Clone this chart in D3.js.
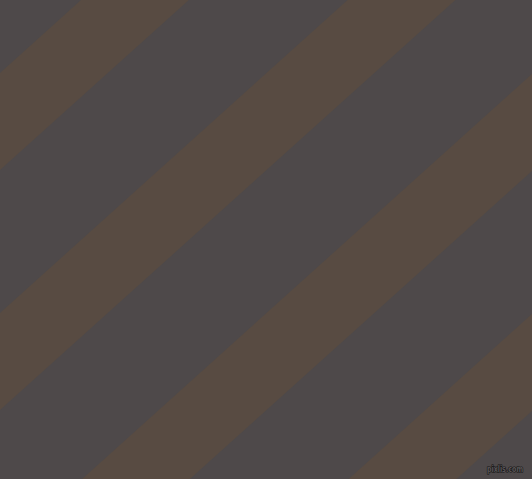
<!DOCTYPE html>
<html>
<head>
<meta charset="utf-8">
<script src="https://cdn.jsdelivr.net/npm/d3@7"></script>
<style>
  html, body { margin: 0; padding: 0; background: #4e494a; }
  svg { display: block; }
</style>
</head>
<body>
<div id="chart"></div>
<script>
'use strict'

// stripe bands, counted from the top-left one
const bandIndex = [-1, 0, 1, 2, 3, 4]
const bandColors = ["#584b42"]
const backColor = "#4e494a"
const mark = "pixlis.com"

const width = 532, height = 479
const angle = 42                 // degrees, rising to the right
const slope = Math.tan(angle * Math.PI / 180)

// band index -> where the band's top edge meets the left side (y)
const edge = d3.scaleLinear().domain([0, 1]).range([73, 313])
const bandDepth = 97               // vertical thickness of each band

const svg = d3.select("#chart").append("svg")
  .attr("width", width)
  .attr("height", height)

svg.append("rect")
  .attr("width", width)
  .attr("height", height)
  .attr("fill", backColor)

function bandPath(i){
  let c1 = edge(i), c2 = c1 + bandDepth
  let xr = width + 20
  return d3.line()([
    [-20, c1 + slope * 20], [xr, c1 - slope * xr],
    [xr, c2 - slope * xr], [-20, c2 + slope * 20]
  ]) + "Z"
}

svg.append("g").selectAll("path")
  .data(bandIndex)
  .join("path")
  .attr("d", bandPath)
  .attr("fill", (d, i) => bandColors[i % bandColors.length])

// little watermark, bottom right
svg.append("text")
  .attr("x", 487)
  .attr("y", 472)
  .attr("textLength", 36)
  .attr("lengthAdjust", "spacingAndGlyphs")
  .attr("font-family", "DejaVu Sans Condensed, DejaVu Sans, sans-serif")
  .attr("font-size", 9)
  .attr("font-weight", "bold")
  .attr("fill", "#5a5658")
  .attr("stroke", "#111")
  .attr("stroke-width", 1.2)
  .attr("paint-order", "stroke")
  .text(mark)
</script>
</body>
</html>
